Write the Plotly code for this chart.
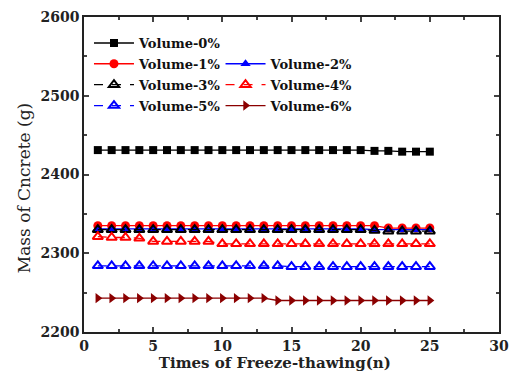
import plotly.graph_objects as go

cycles = list(range(1, 26))

vol0 = [2431]*20 + [2430, 2430, 2429, 2429, 2429]
vol1 = [2335]*21 + [2332, 2332, 2332, 2332]
vol2 = [2331]*20 + [2330]*5
vol3 = [2330]*20 + [2329, 2328, 2328, 2328, 2328]
vol4 = [2321, 2320, 2320, 2319] + [2315]*5 + [2312]*16
vol5 = [2284]*14 + [2283]*11
vol6 = [2243]*13 + [2240]*12

names = ["Volume-0%", "Volume-1%", "Volume-2%", "Volume-3%", "Volume-4%", "Volume-5%", "Volume-6%"]

FONT = "DejaVu Serif"

series = [
    (vol0, names[0], "#000000", "square", "solid", "legend"),
    (vol1, names[1], "#ff0000", "circle", "solid", "legend2"),
    (vol2, names[2], "#0000ff", "triangle-up", "solid", "legend3"),
    (vol3, names[3], "#000000", "triangle-up-open", "dash", "legend2"),
    (vol4, names[4], "#ff0000", "triangle-up-open", "dash", "legend3"),
    (vol5, names[5], "#0000ff", "triangle-up-open", "dash", "legend2"),
    (vol6, names[6], "#8b0000", "triangle-right", "solid", "legend3"),
]

fig = go.Figure()
for vals, name, color, sym, dash, lg in series:
    open_ = sym.endswith("open")
    fig.add_trace(go.Scatter(
        x=cycles, y=vals, name=name, mode="lines+markers",
        line=dict(color=color, width=1.3, dash=dash),
        marker=dict(symbol=sym, size=9 if sym != "square" else 8, color=color,
                    line=dict(color=color, width=2 if open_ else 0)),
        legend=lg, legendgroup=name, showlegend=True,
    ))

legend_common = dict(font=dict(family=FONT, size=13, color="#111", weight="bold"),
                     bgcolor="rgba(0,0,0,0)", itemwidth=40, tracegroupgap=1,
                     traceorder="grouped", xanchor="left", yanchor="top")
fig.update_layout(
    width=518, height=388,
    margin=dict(l=84, r=9, t=16, b=56),
    plot_bgcolor="white", paper_bgcolor="white",
    showlegend=True,
    font=dict(family=FONT, size=14, color="#222"),
    legend=dict(x=0.012, y=0.965, **legend_common),
    legend2=dict(x=0.012, y=0.899, **legend_common),
    legend3=dict(x=0.329, y=0.899, **legend_common),
    xaxis=dict(
        range=[0, 30], tickvals=[0, 5, 10, 15, 20, 25, 30],
        ticks="inside", ticklen=5, tickwidth=1.5, mirror="allticks",
        showline=True, linecolor="#222", linewidth=1.5, showgrid=False, zeroline=False,
        minor=dict(ticks="inside", ticklen=3, tickwidth=1.5, dtick=2.5, tick0=0),
        title=dict(text="<b>Times of Freeze-thawing(n)</b>" + "&nbsp;" * 7,
                   font=dict(size=15), standoff=4),
        tickfont=dict(family=FONT, size=14, weight="bold"),
    ),
    yaxis=dict(
        range=[2200, 2600], tickvals=[2200, 2300, 2400, 2500, 2600],
        ticks="inside", ticklen=5, tickwidth=1.5, mirror="allticks",
        showline=True, linecolor="#222", linewidth=1.5, showgrid=False, zeroline=False,
        minor=dict(ticks="inside", ticklen=3, tickwidth=1.5, dtick=50, tick0=2200),
        title=dict(text="Mass of Cncrete (g)" + "&nbsp;" * 5,
                   font=dict(size=17), standoff=6),
        tickfont=dict(family=FONT, size=14, weight="bold"),
    ),
)

fig.write_html("out.html")
